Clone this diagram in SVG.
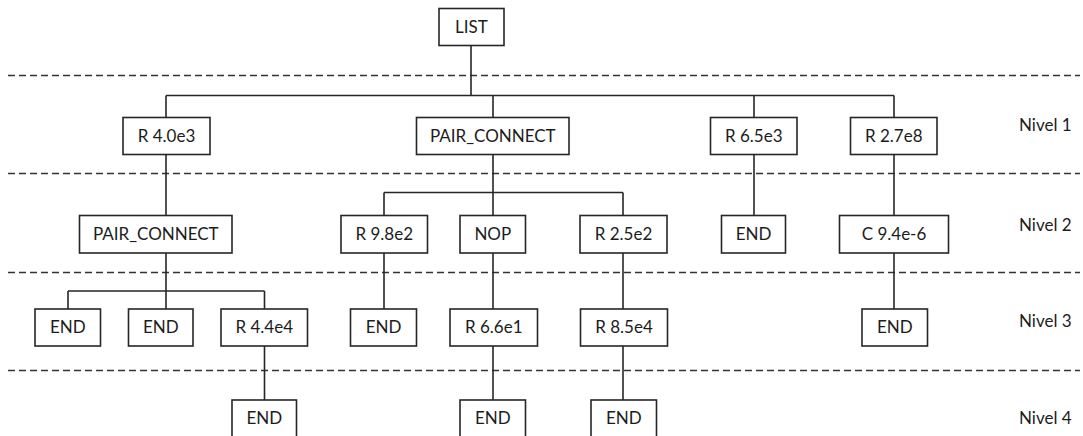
<svg xmlns="http://www.w3.org/2000/svg" width="1083" height="436" viewBox="0 0 1083 436">
  <style>
    .box { fill: #ffffff; stroke: #262626; stroke-width: 1.6; }
    .lbl { font-family: Lato, "Liberation Sans", sans-serif; font-size: 17px; fill: #1c1c1c; text-anchor: middle; }
    .lvl { font-family: Lato, "Liberation Sans", sans-serif; font-size: 17px; fill: #1c1c1c; }
    .wire { fill: none; stroke: #262626; stroke-width: 1.6; }
    .sep { stroke: #333333; stroke-width: 1.5; stroke-dasharray: 7 4; }
  </style>

  <!-- level separators -->
  <g id="separators">
    <line class="sep" x1="8" y1="75.5" x2="1080" y2="75.5"/>
    <line class="sep" x1="8" y1="173.5" x2="1080" y2="173.5"/>
    <line class="sep" x1="8" y1="272.5" x2="1080" y2="272.5"/>
    <line class="sep" x1="8" y1="370.5" x2="1080" y2="370.5"/>
  </g>

  <!-- tree edges -->
  <g id="connectors">
    <path class="wire" d="M471 45.5 V95.5 M166 95.5 H894 M166 95.5 V117.5 M493 95.5 V117.5 M754 95.5 V117.5 M894 95.5 V117.5"/>
    <path class="wire" d="M166 154.5 V215.5"/>
    <path class="wire" d="M493 154.5 V192.5 M384 192.5 H623 M384 192.5 V215.5 M493 192.5 V215.5 M623 192.5 V215.5"/>
    <path class="wire" d="M754 154.5 V215.5"/>
    <path class="wire" d="M894 154.5 V215.5"/>
    <path class="wire" d="M166 253 V291 M68 291 H264.5 M68 291 V309 M166 291 V309 M264.5 291 V309"/>
    <path class="wire" d="M384 253 V309"/>
    <path class="wire" d="M493 253 V309"/>
    <path class="wire" d="M623 253 V309"/>
    <path class="wire" d="M894 253 V309"/>
    <path class="wire" d="M264.5 346 V400"/>
    <path class="wire" d="M493 346 V400"/>
    <path class="wire" d="M623 346 V400"/>
  </g>

  <!-- root -->
  <g id="n-list"><rect class="box" x="439" y="8.5" width="65" height="37"/><text class="lbl" x="471.5" y="32.5">LIST</text></g>

  <!-- level 1 -->
  <g id="n-r40e3"><rect class="box" x="123" y="117.5" width="87" height="37"/><text class="lbl" x="166.5" y="141.5">R 4.0e3</text></g>
  <g id="n-pair1"><rect class="box" x="416.5" y="117.5" width="152.5" height="37"/><text class="lbl" x="492.8" y="141.5">PAIR_CONNECT</text></g>
  <g id="n-r65e3"><rect class="box" x="710.5" y="117.5" width="86.5" height="37"/><text class="lbl" x="753.8" y="141.5">R 6.5e3</text></g>
  <g id="n-r27e8"><rect class="box" x="850.5" y="117.5" width="86.5" height="37"/><text class="lbl" x="893.8" y="141.5">R 2.7e8</text></g>

  <!-- level 2 -->
  <g id="n-pair2"><rect class="box" x="79.5" y="215.5" width="152.5" height="37.5"/><text class="lbl" x="155.8" y="239.5">PAIR_CONNECT</text></g>
  <g id="n-r98e2"><rect class="box" x="341" y="215.5" width="86.5" height="37.5"/><text class="lbl" x="384.3" y="239.5">R 9.8e2</text></g>
  <g id="n-nop"><rect class="box" x="460" y="215.5" width="65.5" height="37.5"/><text class="lbl" x="492.8" y="239.5">NOP</text></g>
  <g id="n-r25e2"><rect class="box" x="580" y="215.5" width="87" height="37.5"/><text class="lbl" x="623.5" y="239.5">R 2.5e2</text></g>
  <g id="n-end-a"><rect class="box" x="721.5" y="215.5" width="64" height="37.5"/><text class="lbl" x="753.5" y="239.5">END</text></g>
  <g id="n-c94e6"><rect class="box" x="839.5" y="215.5" width="109" height="37.5"/><text class="lbl" x="894" y="239.5">C 9.4e-6</text></g>

  <!-- level 3 -->
  <g id="n-end-b"><rect class="box" x="35" y="309" width="65.5" height="37"/><text class="lbl" x="67.8" y="333">END</text></g>
  <g id="n-end-c"><rect class="box" x="128.5" y="309" width="64.5" height="37"/><text class="lbl" x="160.8" y="333">END</text></g>
  <g id="n-r44e4"><rect class="box" x="221" y="309" width="86.5" height="37"/><text class="lbl" x="264.3" y="333">R 4.4e4</text></g>
  <g id="n-end-d"><rect class="box" x="350.5" y="309" width="66" height="37"/><text class="lbl" x="383.5" y="333">END</text></g>
  <g id="n-r66e1"><rect class="box" x="450" y="309" width="87.5" height="37"/><text class="lbl" x="493.8" y="333">R 6.6e1</text></g>
  <g id="n-r85e4"><rect class="box" x="580.5" y="309" width="87" height="37"/><text class="lbl" x="624" y="333">R 8.5e4</text></g>
  <g id="n-end-e"><rect class="box" x="862" y="309" width="65.5" height="37"/><text class="lbl" x="894.8" y="333">END</text></g>

  <!-- level 4 -->
  <g id="n-end-f"><rect class="box" x="232" y="400" width="64.5" height="38"/><text class="lbl" x="264.3" y="424">END</text></g>
  <g id="n-end-g"><rect class="box" x="460" y="400" width="65.5" height="38"/><text class="lbl" x="492.8" y="424">END</text></g>
  <g id="n-end-h"><rect class="box" x="591" y="400" width="65.5" height="38"/><text class="lbl" x="623.8" y="424">END</text></g>

  <!-- level captions -->
  <g id="levels">
    <text class="lvl" x="1019" y="131">Nivel 1</text>
    <text class="lvl" x="1019" y="231">Nivel 2</text>
    <text class="lvl" x="1019" y="327">Nivel 3</text>
    <text class="lvl" x="1019" y="424">Nivel 4</text>
  </g>
</svg>
